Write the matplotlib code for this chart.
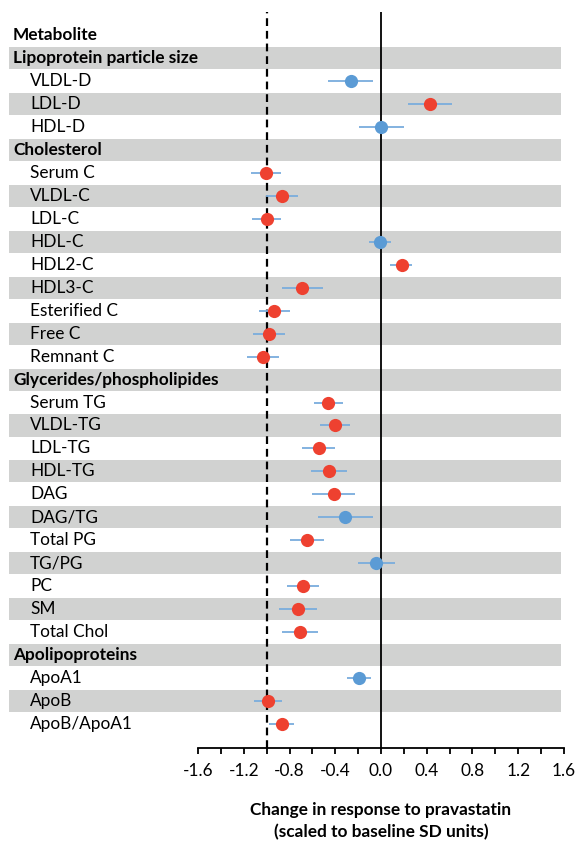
import matplotlib
matplotlib.use("Agg")
import matplotlib.pyplot as plt
from matplotlib.patches import Rectangle
from matplotlib.transforms import blended_transform_factory
from matplotlib.ticker import MultipleLocator

plt.rcParams['font.family'] = ['Lato', 'DejaVu Sans']

# rows top to bottom: (label, is_group_header)
rows = [
    ("Lipoprotein particle size", True),
    ("VLDL-D", False), ("LDL-D", False), ("HDL-D", False),
    ("Cholesterol", True),
    ("Serum C", False), ("VLDL-C", False), ("LDL-C", False), ("HDL-C", False),
    ("HDL2-C", False), ("HDL3-C", False), ("Esterified C", False),
    ("Free C", False), ("Remnant C", False),
    ("Glycerides/phospholipides", True),
    ("Serum TG", False), ("VLDL-TG", False), ("LDL-TG", False), ("HDL-TG", False),
    ("DAG", False), ("DAG/TG", False), ("Total PG", False), ("TG/PG", False),
    ("PC", False), ("SM", False), ("Total Chol", False),
    ("Apolipoproteins", True),
    ("ApoA1", False), ("ApoB", False), ("ApoB/ApoA1", False),
]

# estimates for metabolites, in row order
effect = [-0.26, 0.43, 0.00,
          -1.01, -0.87, -1.00, -0.01, 0.18, -0.69, -0.94, -0.98, -1.03,
          -0.46, -0.405, -0.545, -0.455, -0.415, -0.315, -0.65, -0.047,
          -0.68, -0.73, -0.71,
          -0.195, -0.99, -0.87]
ci_low = [-0.46, 0.24, -0.19,
          -1.14, -1.01, -1.13, -0.105, 0.08, -0.87, -1.07, -1.12, -1.17,
          -0.59, -0.53, -0.69, -0.615, -0.60, -0.55, -0.80, -0.20,
          -0.82, -0.89, -0.87,
          -0.30, -1.11, -0.98]
ci_high = [-0.07, 0.62, 0.20,
           -0.875, -0.73, -0.875, 0.09, 0.27, -0.51, -0.80, -0.84, -0.89,
           -0.33, -0.27, -0.40, -0.30, -0.23, -0.07, -0.50, 0.12,
           -0.54, -0.56, -0.55,
           -0.085, -0.87, -0.76]
significant = [False, True, False,
               True, True, True, False, True, True, True, True, True,
               True, True, True, True, True, False, True, False,
               True, True, True,
               False, True, True]

red = '#EE4130'
blue = '#5B9BD5'
bar_blue = '#7AADDD'
band_gray = '#D1D2D1'
fs = 12.4

W, H = 579, 842
fig = plt.figure(figsize=(W / 100, H / 100), dpi=100)
ax = fig.add_axes([198.1 / W, 1 - 748 / H, (563.9 - 198.1) / W, (748 - 12) / H])
ax.set_xlim(-1.6, 1.6)
ax.set_ylim(len(rows) + 1.04, -1.0)

trans = blended_transform_factory(fig.transFigure, ax.transData)

# header "Metabolite" on row 0
ax.text(13 / W, 0, "Metabolite", transform=trans, fontsize=fs,
        fontweight='bold', va='center', ha='left')

ys = []
for i, (label, header) in enumerate(rows):
    y = i + 1
    if i % 2 == 0:
        ax.add_patch(Rectangle((9 / W, y - 0.48), (561 - 9) / W, 0.96,
                               transform=trans, facecolor=band_gray,
                               edgecolor='none', clip_on=False, zorder=0))
    if header:
        ax.text(13 / W, y, label, transform=trans, fontsize=fs,
                fontweight='bold', va='center', ha='left')
    else:
        ax.text(30 / W, y, label, transform=trans, fontsize=fs,
                va='center', ha='left')
        ys.append(y)

ax.axvline(0, color='black', lw=1.3, zorder=1)
ax.axvline(-1, color='black', lw=1.6, ls=(0, (3.5, 2.2)), zorder=1)

for x, lo, hi, y, sig in zip(effect, ci_low, ci_high, ys, significant):
    ax.errorbar(x, y, xerr=[[x - lo], [hi - x]], fmt='o', ms=9.5,
                color=red if sig else blue, mec='none',
                ecolor=bar_blue, elinewidth=1.3, capsize=0, zorder=3)

for s in ['top', 'right', 'left']:
    ax.spines[s].set_visible(False)
ax.spines['bottom'].set_linewidth(1.3)
ax.set_yticks([])
ax.xaxis.set_major_locator(MultipleLocator(0.4))
ax.xaxis.set_minor_locator(MultipleLocator(0.2))
ax.tick_params(axis='x', which='both', direction='out', length=4, width=1.3,
               labelsize=fs, pad=7)
ax.set_xticklabels([f"{v:.1f}" for v in ax.get_xticks()])
ax.set_xlabel("Change in response to pravastatin\n(scaled to baseline SD units)",
              fontsize=fs, fontweight='bold', labelpad=16, linespacing=1.5)

fig.savefig("out.png", dpi=100)
